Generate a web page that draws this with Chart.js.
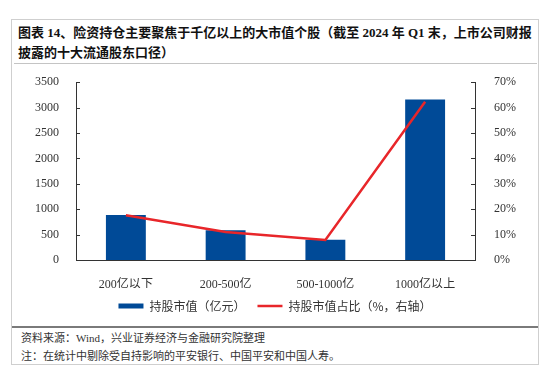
<!DOCTYPE html>
<html>
<head>
<meta charset="utf-8">
<script src="https://cdn.jsdelivr.net/npm/chart.js@4.4.1/dist/chart.umd.min.js"></script>
<style>
    html, body { margin: 0; padding: 0; background: #fff; }
    body { width: 550px; height: 376px; position: relative; overflow: hidden;
        font-family: "Liberation Serif", "Noto Sans CJK SC", serif; color: #222; }
    .box { position: absolute; left: 11px; top: 19px; width: 528px; height: 346px;
        border: 1px solid #cfcfcf; box-sizing: border-box; }
    .title { position: absolute; left: 18px; top: 23px; width: 530px; font-size: 13px;
        font-weight: bold; line-height: 20px; color: #111; white-space: nowrap; }
    .sep1 { position: absolute; left: 14px; top: 63px; width: 523px; height: 1px; background: #c4c4c4; }
    .sep2 { position: absolute; left: 12px; top: 326px; width: 526px; height: 1.5px; background: #7a7a7a; }
    .note { position: absolute; left: 21px; font-size: 11px; line-height: 14px; color: #333; }
    #wrap { position: absolute; left: 0; top: 64px; width: 550px; height: 262px; }
</style>
</head>
<body>
<div class="box"></div>
<div class="title">图表 14、险资持仓主要聚焦于千亿以上的大市值个股（截至 2024 年 Q1 末，上市公司财报<br>披露的十大流通股东口径）</div>
<div class="sep1"></div>
<div id="wrap"><canvas id="chart" width="550" height="262"></canvas></div>
<div class="sep2"></div>
<div class="note" style="top:331px">资料来源：Wind，兴业证券经济与金融研究院整理</div>
<div class="note" style="top:349px">注：在统计中剔除受自持影响的平安银行、中国平安和中国人寿。</div>
<script>
(function () {
    const categories = ['200亿以下', '200-500亿', '500-1000亿', '1000亿以上'];
    const marketValue = [888, 584, 400, 3160];
    const shareOfValue = [17.6, 11.0, 7.9, 62.3];
    const leftTicks = [0, 500, 1000, 1500, 2000, 2500, 3000, 3500];
    const rightTicks = [0, 10, 20, 30, 40, 50, 60, 70];

    const axisColor = '#333';
    const tickFont = { family: '"Liberation Serif", "Noto Sans CJK SC", serif', size: 12 };

    // short tick marks pointing into the plot, like the original
    const innerTicks = {
        id: 'innerTicks',
        afterDraw: function (chart) {
            const ctx = chart.ctx;
            ctx.save();
            ctx.strokeStyle = axisColor;
            ctx.lineWidth = 1;
            ['y', 'y1'].forEach(function (id) {
                const scale = chart.scales[id];
                const x = id === 'y' ? chart.chartArea.left : chart.chartArea.right;
                const dir = id === 'y' ? 1 : -1;
                scale.ticks.forEach(function (t) {
                    const py = Math.round(scale.getPixelForValue(t.value)) + 0.5;
                    ctx.beginPath();
                    ctx.moveTo(x, py);
                    ctx.lineTo(x + dir * 4, py);
                    ctx.stroke();
                });
            });
            ctx.restore();
        }
    };

    new Chart(document.getElementById('chart').getContext('2d'), {
        data: {
            labels: categories,
            datasets: [
                {
                    type: 'line',
                    label: '持股市值占比（%，右轴）',
                    data: shareOfValue,
                    yAxisID: 'y1',
                    borderColor: '#e8262a',
                    backgroundColor: '#e8262a',
                    borderWidth: 2.5,
                    pointRadius: 0,
                    tension: 0,
                    pointStyle: 'line',
                    order: 0
                },
                {
                    type: 'bar',
                    label: '持股市值（亿元）',
                    data: marketValue,
                    yAxisID: 'y',
                    backgroundColor: '#004a97',
                    borderWidth: 0,
                    barPercentage: 0.4,
                    categoryPercentage: 1,
                    pointStyle: 'rect',
                    order: 1
                }
            ]
        },
        options: {
            responsive: false,
            animation: false,
            layout: { padding: { top: 15, left: 0, right: 0, bottom: 4 } },
            scales: {
                x: {
                    grid: { display: false },
                    border: { color: axisColor, width: 1 },
                    ticks: { color: '#333', font: tickFont, padding: 10, maxRotation: 0 },
                    afterFit: function (scale) { scale.height = 28; }
                },
                y: {
                    position: 'left',
                    min: 0,
                    max: 3500,
                    afterBuildTicks: function (scale) {
                        scale.ticks = leftTicks.map(function (v) { return { value: v }; });
                    },
                    grid: { display: false },
                    border: { color: axisColor, width: 1 },
                    ticks: {
                        color: '#333',
                        font: tickFont,
                        padding: 9,
                        callback: function (v) { return String(v); }
                    },
                    afterFit: function (scale) { scale.width = 76; }
                },
                y1: {
                    position: 'right',
                    min: 0,
                    max: 70,
                    afterBuildTicks: function (scale) {
                        scale.ticks = rightTicks.map(function (v) { return { value: v }; });
                    },
                    grid: { display: false },
                    border: { color: axisColor, width: 1 },
                    ticks: {
                        color: '#333',
                        font: tickFont,
                        padding: 11,
                        callback: function (v) { return v + '%'; }
                    },
                    afterFit: function (scale) { scale.width = 75; }
                }
            },
            plugins: {
                tooltip: { enabled: false },
                legend: {
                    position: 'bottom',
                    reverse: true,
                    labels: {
                        usePointStyle: true,
                        pointStyleWidth: 25,
                        boxHeight: 5,
                        color: '#333',
                        padding: 12,
                        font: { family: '"Noto Sans CJK SC", sans-serif', size: 12 }
                    }
                }
            }
        },
        plugins: [innerTicks]
    });
})();
</script>
</body>
</html>
